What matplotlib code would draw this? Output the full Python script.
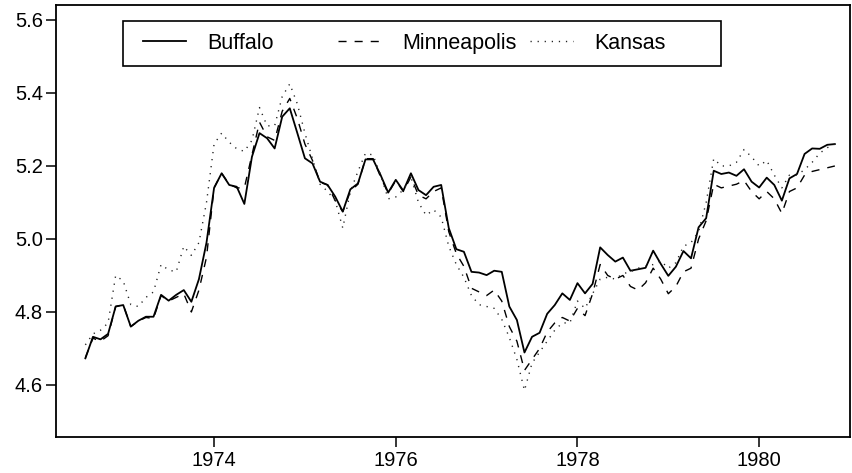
import numpy as np
import matplotlib
matplotlib.use("Agg")
import matplotlib.pyplot as plt
from matplotlib.lines import Line2D
from matplotlib.patches import Rectangle
from matplotlib.ticker import FormatStrFormatter

plt.rcParams['font.family'] = ['Liberation Sans', 'DejaVu Sans']

# Monthly log wheat prices, Aug 1972 - Nov 1980
start_year = 1972
start_month = 8

buffalo = [4.673, 4.732, 4.725, 4.740, 4.815, 4.819, 4.760, 4.776, 4.787, 4.787,
           4.847, 4.831, 4.847, 4.860, 4.828, 4.890, 4.990, 5.140, 5.180, 5.148,
           5.143, 5.096, 5.225, 5.290, 5.276, 5.248, 5.335, 5.358, 5.290, 5.221,
           5.207, 5.157, 5.148, 5.116, 5.075, 5.136, 5.152, 5.218, 5.218, 5.175,
           5.127, 5.162, 5.132, 5.180, 5.134, 5.120, 5.143, 5.148, 5.030, 4.972,
           4.965, 4.910, 4.908, 4.901, 4.913, 4.910, 4.815, 4.778, 4.689, 4.732,
           4.743, 4.795, 4.819, 4.851, 4.833, 4.879, 4.851, 4.877, 4.977, 4.956,
           4.938, 4.949, 4.913, 4.917, 4.921, 4.968, 4.932, 4.899, 4.924, 4.967,
           4.947, 5.032, 5.057, 5.187, 5.178, 5.182, 5.173, 5.191, 5.157, 5.141,
           5.168, 5.148, 5.105, 5.166, 5.178, 5.233, 5.248, 5.247, 5.258, 5.260]

minneapolis = [4.675, 4.728, 4.720, 4.735, 4.815, 4.820, 4.760, 4.775, 4.785, 4.782,
               4.845, 4.830, 4.840, 4.850, 4.800, 4.860, 4.950, 5.140, 5.180, 5.150,
               5.140, 5.140, 5.230, 5.320, 5.280, 5.270, 5.350, 5.385, 5.330, 5.260,
               5.215, 5.155, 5.148, 5.105, 5.075, 5.130, 5.150, 5.220, 5.220, 5.170,
               5.125, 5.160, 5.130, 5.170, 5.120, 5.110, 5.130, 5.140, 5.020, 4.960,
               4.925, 4.865, 4.855, 4.845, 4.860, 4.830, 4.760, 4.720, 4.640, 4.670,
               4.700, 4.745, 4.770, 4.785, 4.775, 4.810, 4.790, 4.850, 4.930, 4.900,
               4.890, 4.900, 4.870, 4.860, 4.880, 4.920, 4.890, 4.850, 4.870, 4.910,
               4.920, 5.000, 5.050, 5.150, 5.140, 5.145, 5.150, 5.160, 5.130, 5.110,
               5.130, 5.110, 5.070, 5.130, 5.140, 5.175, 5.185, 5.190, 5.195, 5.200]

kansas = [4.710, 4.740, 4.750, 4.770, 4.900, 4.885, 4.820, 4.815, 4.840, 4.855,
          4.930, 4.915, 4.910, 4.980, 4.955, 4.990, 5.100, 5.260, 5.290, 5.265,
          5.247, 5.240, 5.270, 5.360, 5.310, 5.310, 5.390, 5.425, 5.370, 5.290,
          5.220, 5.150, 5.130, 5.105, 5.030, 5.130, 5.185, 5.235, 5.230, 5.175,
          5.110, 5.115, 5.135, 5.170, 5.100, 5.065, 5.080, 5.060, 4.980, 4.930,
          4.895, 4.845, 4.820, 4.815, 4.810, 4.780, 4.730, 4.670, 4.585, 4.660,
          4.690, 4.720, 4.750, 4.770, 4.770, 4.830, 4.810, 4.850, 4.890, 4.895,
          4.890, 4.905, 4.910, 4.920, 4.925, 4.930, 4.940, 4.920, 4.935, 4.980,
          4.990, 5.020, 5.100, 5.220, 5.200, 5.200, 5.210, 5.245, 5.225, 5.200,
          5.215, 5.175, 5.140, 5.175, 5.175, 5.190, 5.210, 5.235, 5.250, 5.260]

series_names = ["Buffalo", "Minneapolis", "Kansas"]
x_ticks = [1974, 1976, 1978, 1980]
y_ticks = [4.6, 4.8, 5.0, 5.2, 5.4, 5.6]

t = start_year + (start_month - 1) / 12 + np.arange(len(buffalo)) / 12

fig = plt.figure(figsize=(8.52, 4.73), dpi=100)
ax = fig.add_axes([56 / 852, 36 / 473, 794 / 852, 432 / 473])

styles = [dict(color='black', lw=1.3, linestyle='-'),
          dict(color='black', lw=1.0, dashes=(5.8, 5.8)),
          dict(color='#222222', lw=1.0, dashes=(0.9, 4.2))]

for vals, st in zip([buffalo, minneapolis, kansas], styles):
    ax.plot(t, vals, **st)

ax.set_xlim(1972.26, 1981.0)
ax.set_ylim(4.4575, 5.641)
ax.set_xticks(x_ticks)
ax.set_yticks(y_ticks)
ax.yaxis.set_major_formatter(FormatStrFormatter('%.1f'))
ax.tick_params(direction='out', length=7, width=1.1, labelsize=14.5, colors='black')
ax.tick_params(axis='x', pad=3)
ax.tick_params(axis='y', pad=2.5)
for sp in ax.spines.values():
    sp.set_linewidth(1.3)
    sp.set_color('black')

# Legend: equal-width columns inside a single box
box_x0, box_x1 = 0.0844, 0.8375
box_y0, box_y1 = 0.8588, 0.963
ax.add_patch(Rectangle((box_x0, box_y0), box_x1 - box_x0, box_y1 - box_y0,
                       transform=ax.transAxes, fill=False, ec='black', lw=1.2, zorder=5))
col_x = [0.1096, 0.355, 0.597]
legends = []
for name, st, cx in zip(series_names, styles, col_x):
    h = Line2D([], [], **st)
    leg = ax.legend([h], [name], loc='center left', bbox_to_anchor=(cx, 0.911),
                    bbox_transform=ax.transAxes, frameon=False, borderpad=0,
                    borderaxespad=0, handlelength=2.0, handletextpad=1.0, fontsize=15.5)
    legends.append(leg)
# the last legend stays as the axes legend; add the others as extra artists
for leg in legends[:-1]:
    ax.add_artist(leg)

fig.savefig("out.png", dpi=100)
